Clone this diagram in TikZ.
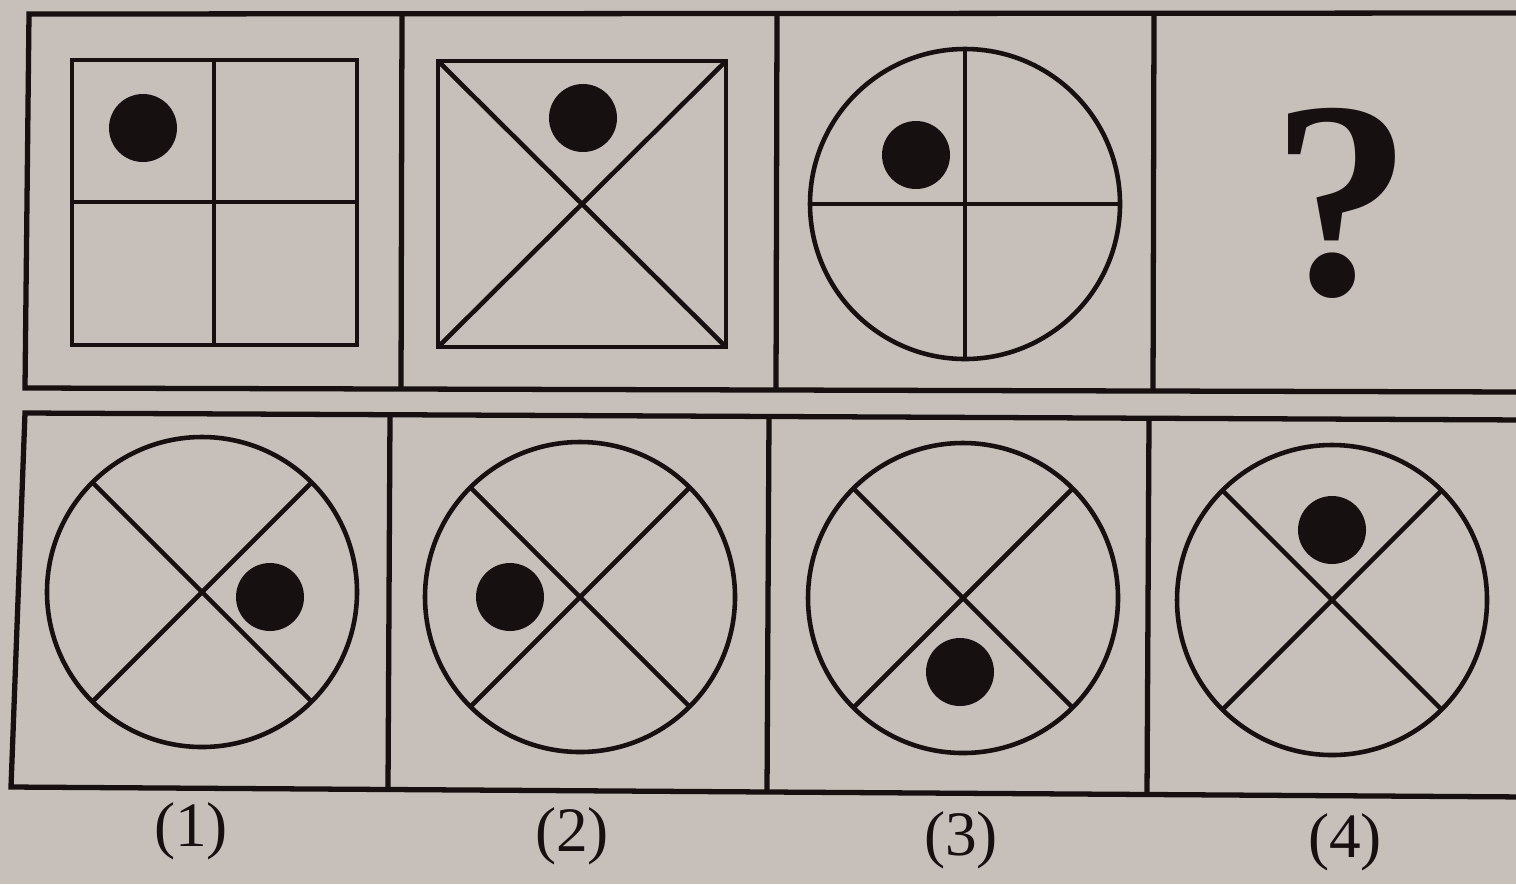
\documentclass[tikz,border=0pt]{standalone}
\usepackage{fontspec}
\setmainfont{Liberation Serif}
\usetikzlibrary{positioning, calc}
\definecolor{paper}{RGB}{198,191,186}
\definecolor{ink}{RGB}{22,16,16}

\begin{document}
\begin{tikzpicture}[x=0.01cm, y=-0.01cm,
  frame/.style={draw=ink, line width=1.5pt},
  fig/.style={draw=ink, line width=1.3pt},
  blob/.style={fill=ink},
  lab/.style={font=\fontsize{18}{20}\selectfont, text=ink}]
  \useasboundingbox (0,0) rectangle (1516,884);
  \fill[paper] (0,0) rectangle (1516,884);
  \clip (0,0) rectangle (1516,884);
  % question row
  \draw[frame] (1530,13) -- (29,14) -- (25,388) -- (1530,392);
  \draw[frame] (402,14) -- (401,389);
  \draw[frame] (777,14) -- (776,390);
  \draw[frame] (1154,13) -- (1153,391);
  % figure 1: square with cross
  \draw[fig] (72,60) rectangle (357,345);
  \draw[fig] (214,60) -- (214,345);
  \draw[fig] (72,202) -- (357,202);
  \fill[blob] (143,128) circle (34);
  % figure 2: square with diagonals
  \draw[fig] (438,61) rectangle (726,347);
  \draw[fig] (438,61) -- (726,347);
  \draw[fig] (726,61) -- (438,347);
  \fill[blob] (583,118) circle (34);
  % figure 3: circle with cross
  \draw[fig] (965,204) circle (155);
  \draw[fig] (810,204) -- (1120,204);
  \draw[fig] (965,49) -- (965,359);
  \fill[blob] (916,155) circle (34);
  % missing figure
  \node[font=\fontsize{80}{82}\selectfont\bfseries, text=ink] (qmark) at (1342,203) {?};
  % answer row
  \draw[frame] (1530,420) -- (25,413) -- (11,787) -- (1530,797);
  \draw[frame] (390,414) -- (388,789);
  \draw[frame] (769,416) -- (767,792);
  \draw[frame] (1149,418) -- (1147,795);
  \foreach \cx/\cy/\dx/\dy/\n in {202/592/270/597/1, 580/597/510/597/2,
                                  963/598/960/672/3, 1332/600/1332/530/4} {
    \draw[fig] (\cx,\cy) circle (155);
    \draw[fig] ($(\cx,\cy)+(135:155)$) -- ($(\cx,\cy)+(-45:155)$);
    \draw[fig] ($(\cx,\cy)+(45:155)$) -- ($(\cx,\cy)+(-135:155)$);
    \fill[blob] (\dx,\dy) circle (34);
  }
  % option labels
  \node[lab] (opt1) at (191,831) {(1)};
  \node[lab] (opt2) at (572,836) {(2)};
  \node[lab] (opt3) at (961,840) {(3)};
  \node[lab] (opt4) at (1345,842) {(4)};
\end{tikzpicture}
\end{document}
